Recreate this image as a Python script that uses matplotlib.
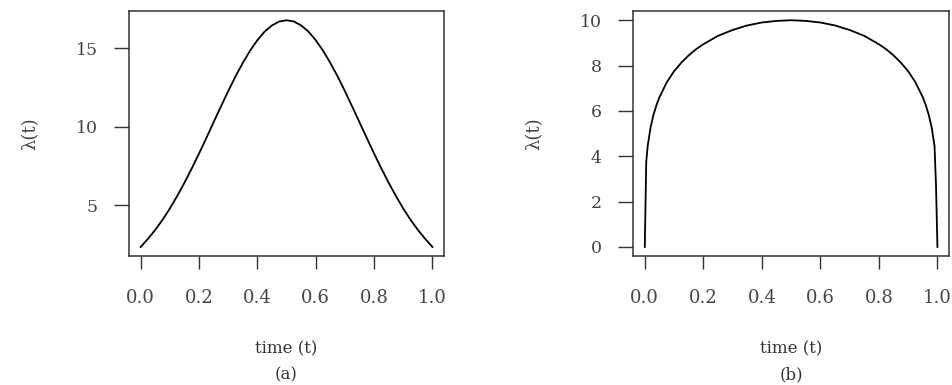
import numpy as np
import matplotlib.pyplot as plt

plt.rcParams['font.family'] = ['DejaVu Serif']

# (a) bell shaped intensity, read every 0.025 on t
t_a = np.linspace(0, 1, 41)
lam_a = [2.35, 2.87, 3.44, 4.08, 4.80, 5.59, 6.44, 7.35, 8.30, 9.29,
         10.30, 11.30, 12.28, 13.22, 14.08, 14.86, 15.53, 16.08, 16.47, 16.72,
         16.80,
         16.72, 16.47, 16.08, 15.53, 14.86, 14.08, 13.22, 12.28, 11.30, 10.30,
         9.29, 8.30, 7.35, 6.44, 5.59, 4.80, 4.08, 3.44, 2.87, 2.35]

# (b) dome shaped intensity, denser near the ends where it drops to zero
t_b = [0.0, 0.005, 0.01, 0.02, 0.03, 0.04, 0.05, 0.075, 0.1, 0.125, 0.15,
       0.175, 0.2, 0.25, 0.3, 0.35, 0.4, 0.45, 0.5, 0.55, 0.6, 0.65, 0.7,
       0.75, 0.8, 0.825, 0.85, 0.875, 0.9, 0.925, 0.95, 0.96, 0.97, 0.98,
       0.99, 0.995, 1.0]
lam_b = [0.0, 3.76, 4.46, 5.29, 5.84, 6.26, 6.60, 7.26, 7.75, 8.13, 8.45,
         8.72, 8.94, 9.31, 9.57, 9.77, 9.90, 9.97, 10.00, 9.97, 9.90, 9.77, 9.57,
         9.31, 8.94, 8.72, 8.45, 8.13, 7.75, 7.26, 6.60, 6.26, 5.84, 5.29,
         4.46, 2.75, 0.0]

xticks = [0.0, 0.2, 0.4, 0.6, 0.8, 1.0]
xtick_labels = ['0.0', '0.2', '0.4', '0.6', '0.8', '1.0']
yticks_a = [5, 10, 15]
yticks_b = [0, 2, 4, 6, 8, 10]
panel_names = ['(a)', '(b)']

fig = plt.figure(figsize=(9.52, 3.85), dpi=100)
ax_a = fig.add_axes([0.1355, 0.335, 0.331, 0.636])
ax_b = fig.add_axes([0.665, 0.335, 0.332, 0.636])

for ax, t, lam, yt, name in [(ax_a, t_a, lam_a, yticks_a, panel_names[0]),
                             (ax_b, t_b, lam_b, yticks_b, panel_names[1])]:
    ax.plot(t, lam, color='black', lw=1.3)
    # R style 4% padding around the data
    lo, hi = min(lam), max(lam)
    pad = 0.04 * (hi - lo)
    ax.set_xlim(-0.04, 1.04)
    ax.set_ylim(lo - pad, hi + pad)
    ax.set_xticks(xticks)
    ax.set_xticklabels(xtick_labels)
    ax.set_yticks(yt)
    for s in ax.spines.values():
        s.set_color('#333333')
        s.set_linewidth(1.1)
    ax.tick_params(axis='x', length=9, width=1.0, color='#333333',
                   pad=15, labelsize=13, labelcolor='#444444')
    ax.tick_params(axis='y', length=10.5, width=1.0, color='#333333',
                   pad=12, labelsize=12.5, labelcolor='#444444')
    ax.set_ylabel('\u03bb(t)', fontsize=13, color='#444444', labelpad=26)
    ax.set_xlabel('time (t)\n' + name, fontsize=12, color='#333333',
                  labelpad=24, linespacing=1.7)

fig.savefig('out.png', dpi=100)
